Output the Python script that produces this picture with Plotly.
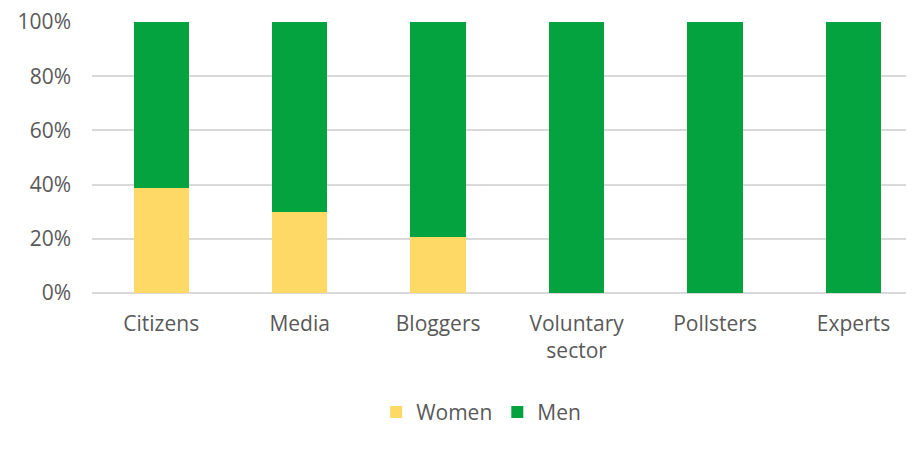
import plotly.graph_objects as go

categories = ["Citizens", "Media", "Bloggers", "Voluntary<br>sector", "Pollsters", "Experts"]
women = [38.7, 29.9, 20.7, 0, 0, 0]
men = [61.3, 70.1, 79.3, 100, 100, 100]
y_ticks = [0, 20, 40, 60, 80, 100]
y_tick_labels = ["0%", "20%", "40%", "60%", "80%", "100%"]

font_color = "#595959"

fig = go.Figure()
fig.add_trace(go.Bar(x=categories, y=women, name="Women", marker_color="#FFD965", marker_line_width=0))
fig.add_trace(go.Bar(x=categories, y=men, name="Men", marker_color="#04A33F", marker_line_width=0))

# page body adds an 8px offset, margins compensate for it
fig.update_layout(
    width=914,
    height=450,
    barmode="stack",
    bargap=0.6,
    plot_bgcolor="white",
    paper_bgcolor="white",
    margin=dict(l=84, r=2, t=14, b=165),
    font=dict(family="Open Sans, Liberation Sans, sans-serif", size=21, color=font_color),
    legend=dict(
        orientation="h",
        traceorder="normal",
        x=0.47,
        xanchor="center",
        y=-0.44,
        yanchor="middle",
        font=dict(size=21, color=font_color),
        itemwidth=30,
    ),
)
fig.update_xaxes(
    range=[-0.5, 5.48],
    showgrid=False,
    ticks="",
    tickfont=dict(size=21),
    ticklabelstandoff=16,
    automargin=False,
)
fig.update_yaxes(
    range=[0, 100],
    tickvals=y_ticks,
    ticktext=y_tick_labels,
    gridcolor="#D9D9D9",
    gridwidth=1.5,
    zeroline=True,
    zerolinecolor="#D9D9D9",
    zerolinewidth=1.5,
    ticklabelstandoff=20,
    ticklabeloverflow="allow",
    tickfont=dict(size=21),
    automargin=False,
)

fig.write_html("out.html")
